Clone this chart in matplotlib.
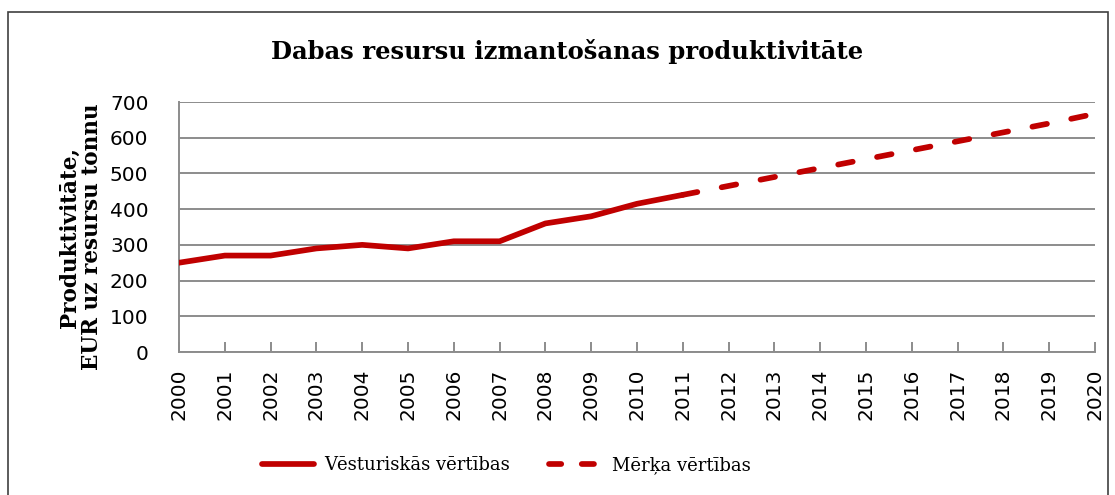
import matplotlib.pyplot as plt
from matplotlib.patches import Rectangle
from matplotlib.lines import Line2D

# dati
years = list(range(2000, 2021))
hist_years = list(range(2000, 2012))
hist_values = [250, 270, 270, 290, 300, 290, 310, 310, 360, 380, 415, 440]
target_years = list(range(2011, 2021))
target_values = [440, 465, 490, 515, 540, 565, 590, 615, 640, 667]

red = '#C00000'
grid_col = '#8C8C8C'
lw = 4.1
dash = (2.6, 4.35)

fig = plt.figure(figsize=(11.15, 4.95), dpi=100)
fig.patch.set_facecolor('white')

# ramis ap diagrammu
fig.patches.append(Rectangle((8 / 1115, -0.01), 1100 / 1115, 1 - 12 / 495 + 0.01,
                             transform=fig.transFigure, fill=False,
                             edgecolor='#3F3F3F', linewidth=1.2))

ax = fig.add_axes([179 / 1115, 1 - 352 / 495, 916 / 1115, 250 / 495])

ax.plot(hist_years, hist_values, color=red, linewidth=lw,
        solid_capstyle='round', solid_joinstyle='round', zorder=3)
ax.plot(target_years, target_values, color=red, linewidth=lw,
        dashes=dash, dash_capstyle='round', zorder=3)

ax.set_xlim(2000, 2020)
ax.set_ylim(0, 700)
ax.set_yticks(range(0, 701, 100))
ax.set_xticks(years)
ax.set_xticklabels([str(y) for y in years], rotation=90)

ax.grid(axis='y', color=grid_col, linewidth=1.4)
ax.set_axisbelow(True)
for s in ['top', 'right']:
    ax.spines[s].set_visible(False)
for s in ['left', 'bottom']:
    ax.spines[s].set_color(grid_col)
    ax.spines[s].set_linewidth(1.4)

ax.tick_params(axis='y', length=0, pad=22, labelsize=14.5, labelcolor='black')
ax.tick_params(axis='x', direction='in', length=7, width=1.4, color=grid_col,
               pad=12, labelsize=14.5)
for lab in ax.get_xticklabels() + ax.get_yticklabels():
    lab.set_family('DejaVu Sans')

fig.text(81 / 1115, 1 - 237 / 495, 'Produktivitāte,\nEUR uz resursu tonnu',
         rotation=90, ha='center', va='center', multialignment='center',
         family='DejaVu Serif', fontweight='bold', fontsize=15.5,
         linespacing=1.05)

fig.text(567 / 1115, 1 - 52 / 495, 'Dabas resursu izmantošanas produktivitāte',
         ha='center', va='center', family='DejaVu Serif', fontweight='bold',
         fontsize=17.5)

# leģenda
handles = [Line2D([], [], color=red, linewidth=lw, solid_capstyle='round'),
           Line2D([], [], color=red, linewidth=lw, dashes=(2.15, 3.6),
                  dash_capstyle='round')]
fig.legend(handles, ['Vēsturiskās vērtības', 'Mērķa vērtības'],
           loc='center', bbox_to_anchor=(506 / 1115, 1 - 465 / 495), ncol=2,
           frameon=False, prop={'family': 'DejaVu Serif', 'size': 13},
           handlelength=2.9, columnspacing=2.2, handletextpad=0.55)

fig.savefig('out.png', dpi=100)
